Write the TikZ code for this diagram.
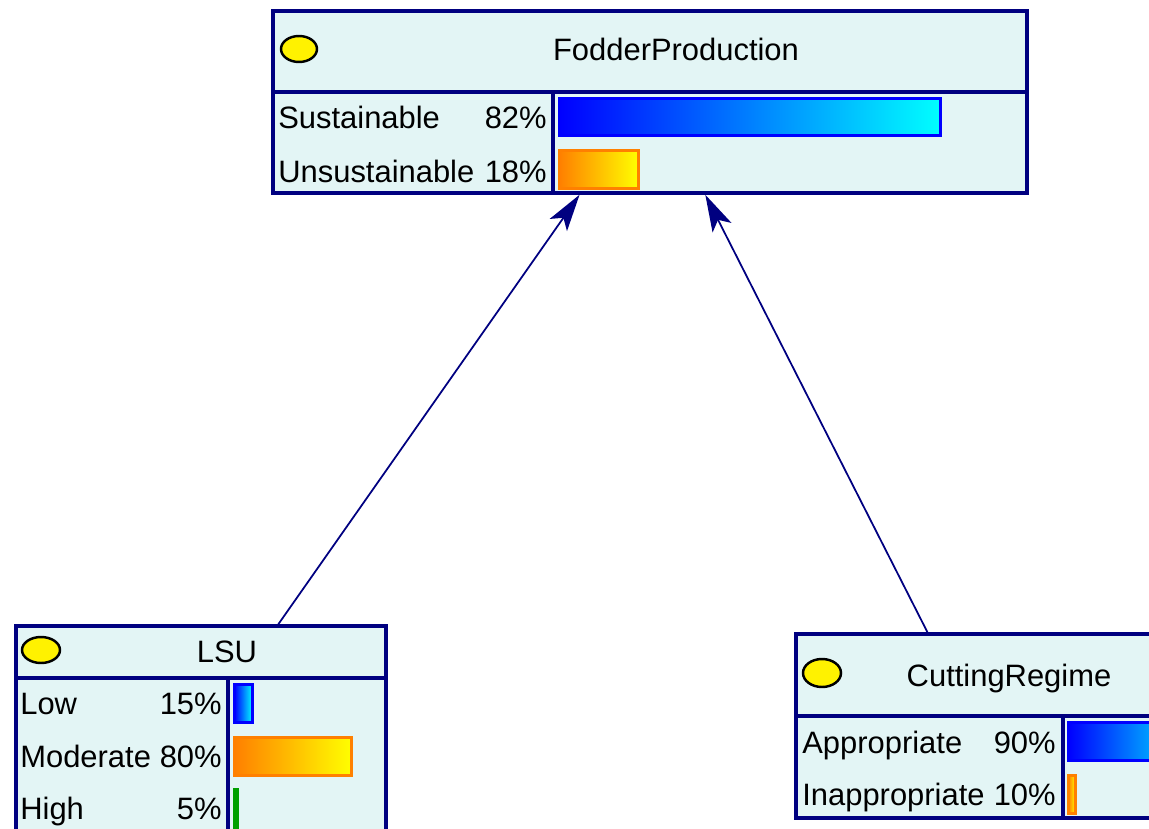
\documentclass[tikz,border=0pt]{standalone}
\usepackage{fontspec}
\setmainfont{Liberation Sans}
\usetikzlibrary{arrows.meta,calc,fit,backgrounds}

\definecolor{boxfill}{HTML}{E3F5F5}
\definecolor{boxline}{HTML}{000080}
\definecolor{barblue}{HTML}{0000FF}
\definecolor{barcyan}{HTML}{00FFFF}
\definecolor{barorange}{HTML}{FF8000}
\definecolor{baryellow}{HTML}{FFFF00}
\definecolor{bargreen}{HTML}{00A000}

\tikzset{
  netbox/.style={draw=boxline,fill=boxfill,line width=2pt,inner sep=0pt},
  sepline/.style={draw=boxline,line width=2pt},
  lamp/.style={draw=black,fill=yellow,line width=1.4pt},
  txt/.style={font=\fontsize{17.6}{21}\selectfont,inner sep=0pt,text=black},
  bluebar/.style={draw=barblue,line width=1.7pt,left color=barblue,right color=barcyan},
  orangebar/.style={draw=barorange,line width=1.7pt,left color=barorange,right color=baryellow},
  greenbar/.style={fill=bargreen},
  link/.style={draw=boxline,line width=1pt,-{Stealth[length=21pt,width=12pt,inset=5pt]}}
}

\begin{document}
\begin{tikzpicture}[x=0.02cm,y=-0.02cm]
  \useasboundingbox (0,0) rectangle (1149,828);
  \clip (0,0) rectangle (1149,828);

  % FodderProduction
  \node[netbox,fit={(273,11) (1027,193)}] (fodder) {};
  \draw[sepline] (273,92) -- (1027,92);
  \draw[sepline] (553,92) -- (553,193);
  \draw[lamp] (299,49) ellipse (18 and 13);
  \node[txt,anchor=base] (fodderTitle) at (676,61) {FodderProduction};
  \node[txt,anchor=base west] (fodderS) at (278,129) {Sustainable};
  \node[txt,anchor=base east] (fodderSp) at (547,129) {82\%};
  \node[txt,anchor=base west] (fodderU) at (278,182) {Unsustainable};
  \node[txt,anchor=base east] (fodderUp) at (547,182) {18\%};
  \draw[bluebar] (559.5,98.5) rectangle (940.5,135.5);
  \draw[orangebar] (559.5,150.5) rectangle (638.5,188.5);

  % LSU
  \node[netbox,fit={(16,626) (386,900)}] (lsu) {};
  \draw[sepline] (16,678) -- (386,678);
  \draw[sepline] (228,678) -- (228,900);
  \draw[lamp] (41,650) ellipse (19 and 13);
  \node[txt,anchor=base] (lsuTitle) at (227,662) {LSU};
  \node[txt,anchor=base west] (lsuL) at (20,714) {Low};
  \node[txt,anchor=base east] (lsuLp) at (222,714) {15\%};
  \node[txt,anchor=base west] (lsuM) at (20,767) {Moderate};
  \node[txt,anchor=base east] (lsuMp) at (222,767) {80\%};
  \node[txt,anchor=base west] (lsuH) at (20,819) {High};
  \node[txt,anchor=base east] (lsuHp) at (222,819) {5\%};
  \draw[bluebar] (234.5,684.5) rectangle (252.5,722.5);
  \draw[orangebar] (234.5,737.5) rectangle (351.5,775.5);
  \fill[greenbar] (233,788) rectangle (239,840);

  % CuttingRegime
  \node[netbox,fit={(796,634) (1172,818)}] (cutting) {};
  \draw[sepline] (796,716) -- (1172,716);
  \draw[sepline] (1063,716) -- (1063,818);
  \draw[lamp] (822,673) ellipse (19 and 14);
  \node[txt,anchor=base] (cuttingTitle) at (1009,686) {CuttingRegime};
  \node[txt,anchor=base west] (cuttingA) at (802,753) {Appropriate};
  \node[txt,anchor=base east] (cuttingAp) at (1056,753) {90\%};
  \node[txt,anchor=base west] (cuttingI) at (802,805) {Inappropriate};
  \node[txt,anchor=base east] (cuttingIp) at (1056,805) {10\%};
  \draw[bluebar] (1068.5,722.5) rectangle (1200,760.5);
  \draw[orangebar] (1068.5,775.5) rectangle (1075.5,813.5);

  % links
  \begin{scope}[on background layer]
    \draw[link] ($(lsu.north west)!0.707!(lsu.north east)$)
      -- ($(fodder.south west)!0.407!(fodder.south east)$);
    \draw[link] ($(cutting.north west)!0.351!(cutting.north east)$)
      -- ($(fodder.south west)!0.573!(fodder.south east)$);
  \end{scope}
\end{tikzpicture}
\end{document}
